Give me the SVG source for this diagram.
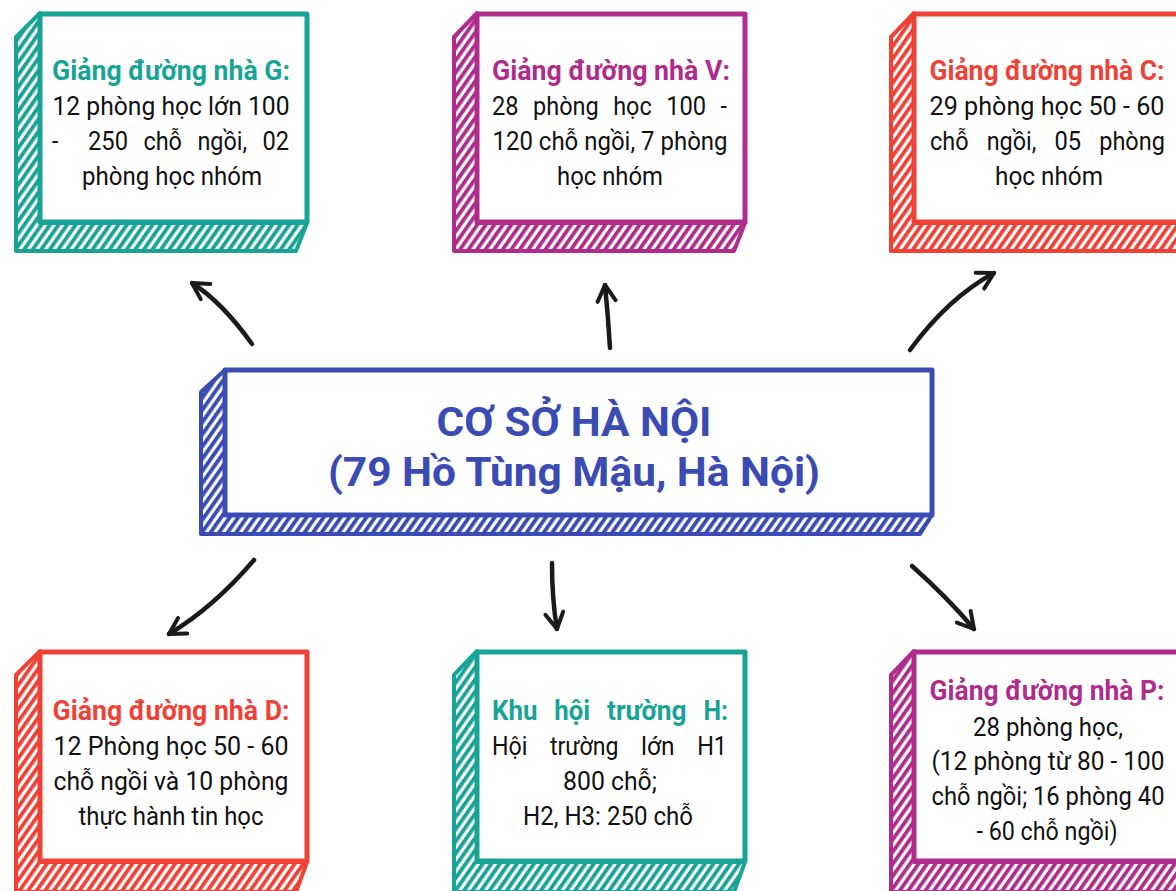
<svg xmlns="http://www.w3.org/2000/svg" width="1176" height="891" viewBox="0 0 1176 891">
<defs>
<pattern id="hT" width="7" height="7" patternUnits="userSpaceOnUse" patternTransform="rotate(35)"><rect width="7" height="7" fill="#fff"/><rect width="3.8" height="7" fill="#17a497"/></pattern>
<pattern id="hM" width="7" height="7" patternUnits="userSpaceOnUse" patternTransform="rotate(35)"><rect width="7" height="7" fill="#fff"/><rect width="3.8" height="7" fill="#b02c8c"/></pattern>
<pattern id="hR" width="7" height="7" patternUnits="userSpaceOnUse" patternTransform="rotate(35)"><rect width="7" height="7" fill="#fff"/><rect width="3.8" height="7" fill="#ef4136"/></pattern>
<pattern id="hB" width="7" height="7" patternUnits="userSpaceOnUse" patternTransform="rotate(35)"><rect width="7" height="7" fill="#fff"/><rect width="3.8" height="7" fill="#3a4bb4"/></pattern>
<marker id="ah" markerUnits="userSpaceOnUse" markerWidth="40" markerHeight="40" refX="0" refY="0" viewBox="-20 -20 40 40" orient="auto" overflow="visible"><path d="M-16,-9 L0,0 L-16,9" fill="none" stroke="#1a1a1a" stroke-width="4" stroke-linecap="round" stroke-linejoin="round"/></marker>
<style>
.side{stroke-width:4;stroke-linejoin:round}
.face{fill:#fff;stroke-width:5;stroke-linejoin:round}
.t{font-family:Roboto,"Noto Sans",sans-serif;font-weight:bold;font-size:27px}
.b{font-family:Roboto,"Noto Sans",sans-serif;font-size:26px;fill:#111}
.m{text-anchor:middle}
.cT{fill:#17a497}.cM{fill:#b02c8c}.cR{fill:#ef4136}.cB{fill:#3a4bb4}
.sT{stroke:#17a497}.sM{stroke:#b02c8c}.sR{stroke:#ef4136}.sB{stroke:#3a4bb4}
.big{font-family:Roboto,"Noto Sans",sans-serif;font-weight:bold;font-size:40px;fill:#3a4bb4;text-anchor:middle}
.arr{fill:none;stroke:#1a1a1a;stroke-width:4.5;stroke-linecap:round;marker-end:url(#ah)}
</style>
</defs>
<rect width="1176" height="891" fill="#fff"/>

<g id="connectors">
<path class="arr" d="M252,344 Q222,302 192,283"/>
<path class="arr" d="M610,348 Q608,315 605,285"/>
<path class="arr" d="M910,350 Q948,298 994,273"/>
<path class="arr" d="M254,560 Q214,607 169,634"/>
<path class="arr" d="M552,563 Q552,600 557,629"/>
<path class="arr" d="M912,566 Q948,598 974,629"/>
</g>

<g id="nodeG">
<polygon class="side sT" fill="url(#hT)" points="40,13 16,37 16,251 296,251 307,223 40,223"/>
<rect class="face sT" x="40" y="14" width="267" height="208"/>
<text class="t cT m" x="171" y="80" textLength="238" lengthAdjust="spacingAndGlyphs">Giảng đường nhà G:</text>
<text class="b m" x="171" y="115" textLength="237" lengthAdjust="spacingAndGlyphs">12 phòng học lớn 100</text>
<g class="b">
<text x="52" y="150" textLength="6.4" lengthAdjust="spacingAndGlyphs">-</text>
<text x="88" y="150" textLength="40" lengthAdjust="spacingAndGlyphs">250</text>
<text x="143.4" y="150" textLength="38.6" lengthAdjust="spacingAndGlyphs">chỗ</text>
<text x="197.4" y="150" textLength="49.7" lengthAdjust="spacingAndGlyphs">ngồi,</text>
<text x="262.5" y="150" textLength="26.6" lengthAdjust="spacingAndGlyphs">02</text>
</g>
<text class="b m" x="172" y="185" textLength="180" lengthAdjust="spacingAndGlyphs">phòng học nhóm</text>
</g>

<g id="nodeV">
<polygon class="side sM" fill="url(#hM)" points="477,13 454,37 454,251 734,251 745,223 477,223"/>
<rect class="face sM" x="477" y="14" width="268" height="208"/>
<text class="t cM m" x="611" y="80" textLength="238" lengthAdjust="spacingAndGlyphs">Giảng đường nhà V:</text>
<g class="b">
<text x="492" y="115" textLength="26.6" lengthAdjust="spacingAndGlyphs">28</text>
<text x="533" y="115" textLength="65.7" lengthAdjust="spacingAndGlyphs">phòng</text>
<text x="613.2" y="115" textLength="38.6" lengthAdjust="spacingAndGlyphs">học</text>
<text x="666.2" y="115" textLength="39.9" lengthAdjust="spacingAndGlyphs">100</text>
<text x="720.6" y="115" textLength="6.4" lengthAdjust="spacingAndGlyphs">-</text>
</g>
<text class="b m" x="610" y="150" textLength="235" lengthAdjust="spacingAndGlyphs">120 chỗ ngồi, 7 phòng</text>
<text class="b m" x="610" y="185" textLength="106" lengthAdjust="spacingAndGlyphs">học nhóm</text>
</g>

<g id="nodeC">
<polygon class="side sR" fill="url(#hR)" points="914,13 891,37 891,251 1180,251 1190,223 914,223"/>
<rect class="face sR" x="914" y="14" width="280" height="208"/>
<text class="t cR m" x="1047" y="80" textLength="235" lengthAdjust="spacingAndGlyphs">Giảng đường nhà C:</text>
<text class="b m" x="1047" y="115" textLength="235" lengthAdjust="spacingAndGlyphs">29 phòng học 50 - 60</text>
<g class="b">
<text x="930" y="150" textLength="38.6" lengthAdjust="spacingAndGlyphs">chỗ</text>
<text x="986.7" y="150" textLength="49.7" lengthAdjust="spacingAndGlyphs">ngồi,</text>
<text x="1054.5" y="150" textLength="26.6" lengthAdjust="spacingAndGlyphs">05</text>
<text x="1099.2" y="150" textLength="65.7" lengthAdjust="spacingAndGlyphs">phòng</text>
</g>
<text class="b m" x="1049" y="185" textLength="108" lengthAdjust="spacingAndGlyphs">học nhóm</text>
</g>

<g id="nodeMain">
<polygon class="side sB" fill="url(#hB)" points="225,370 201,392 201,534 920,534 932,515 225,515"/>
<rect class="face sB" x="225" y="370" width="707" height="145"/>
<text class="big" x="574" y="436" textLength="275" lengthAdjust="spacingAndGlyphs">CƠ SỞ HÀ NỘI</text>
<text class="big" x="574" y="486" textLength="492" lengthAdjust="spacingAndGlyphs">(79 Hồ Tùng Mậu, Hà Nội)</text>
</g>

<g id="nodeD">
<polygon class="side sR" fill="url(#hR)" points="40,651 16,675 16,892 296,892 307,862 40,862"/>
<rect class="face sR" x="40" y="652" width="267" height="209"/>
<text class="t cR m" x="171" y="720" textLength="237" lengthAdjust="spacingAndGlyphs">Giảng đường nhà D:</text>
<text class="b m" x="171" y="755" textLength="235" lengthAdjust="spacingAndGlyphs">12 Phòng học 50 - 60</text>
<text class="b m" x="171" y="790" textLength="235" lengthAdjust="spacingAndGlyphs">chỗ ngồi và 10 phòng</text>
<text class="b m" x="171" y="825" textLength="185" lengthAdjust="spacingAndGlyphs">thực hành tin học</text>
</g>

<g id="nodeH">
<polygon class="side sT" fill="url(#hT)" points="477,651 454,675 454,892 734,892 745,862 477,862"/>
<rect class="face sT" x="477" y="652" width="268" height="209"/>
<g class="t cT">
<text x="492" y="720" textLength="45.4" lengthAdjust="spacingAndGlyphs">Khu</text>
<text x="554.3" y="720" textLength="35.9" lengthAdjust="spacingAndGlyphs">hội</text>
<text x="607.1" y="720" textLength="79.5" lengthAdjust="spacingAndGlyphs">trường</text>
<text x="703.5" y="720" textLength="24.5" lengthAdjust="spacingAndGlyphs">H:</text>
</g>
<g class="b">
<text x="492" y="755" textLength="35.4" lengthAdjust="spacingAndGlyphs">Hội</text>
<text x="550" y="755" textLength="68.5" lengthAdjust="spacingAndGlyphs">trường</text>
<text x="641.1" y="755" textLength="33.5" lengthAdjust="spacingAndGlyphs">lớn</text>
<text x="697.2" y="755" textLength="29.8" lengthAdjust="spacingAndGlyphs">H1</text>
</g>
<text class="b m" x="610" y="790" textLength="94" lengthAdjust="spacingAndGlyphs">800 chỗ;</text>
<text class="b m" x="608" y="825" textLength="170" lengthAdjust="spacingAndGlyphs">H2, H3: 250 chỗ</text>
</g>

<g id="nodeP">
<polygon class="side sM" fill="url(#hM)" points="914,651 891,675 891,892 1180,892 1190,862 914,862"/>
<rect class="face sM" x="914" y="652" width="280" height="209"/>
<text class="t cM m" x="1047" y="700" textLength="235" lengthAdjust="spacingAndGlyphs">Giảng đường nhà P:</text>
<text class="b m" x="1048" y="736" textLength="150" lengthAdjust="spacingAndGlyphs">28 phòng học,</text>
<text class="b m" x="1048" y="770" textLength="233" lengthAdjust="spacingAndGlyphs">(12 phòng từ 80 - 100</text>
<text class="b m" x="1048" y="805" textLength="233" lengthAdjust="spacingAndGlyphs">chỗ ngồi; 16 phòng 40</text>
<text class="b m" x="1047" y="840" textLength="141" lengthAdjust="spacingAndGlyphs">- 60 chỗ ngồi)</text>
</g>
</svg>
